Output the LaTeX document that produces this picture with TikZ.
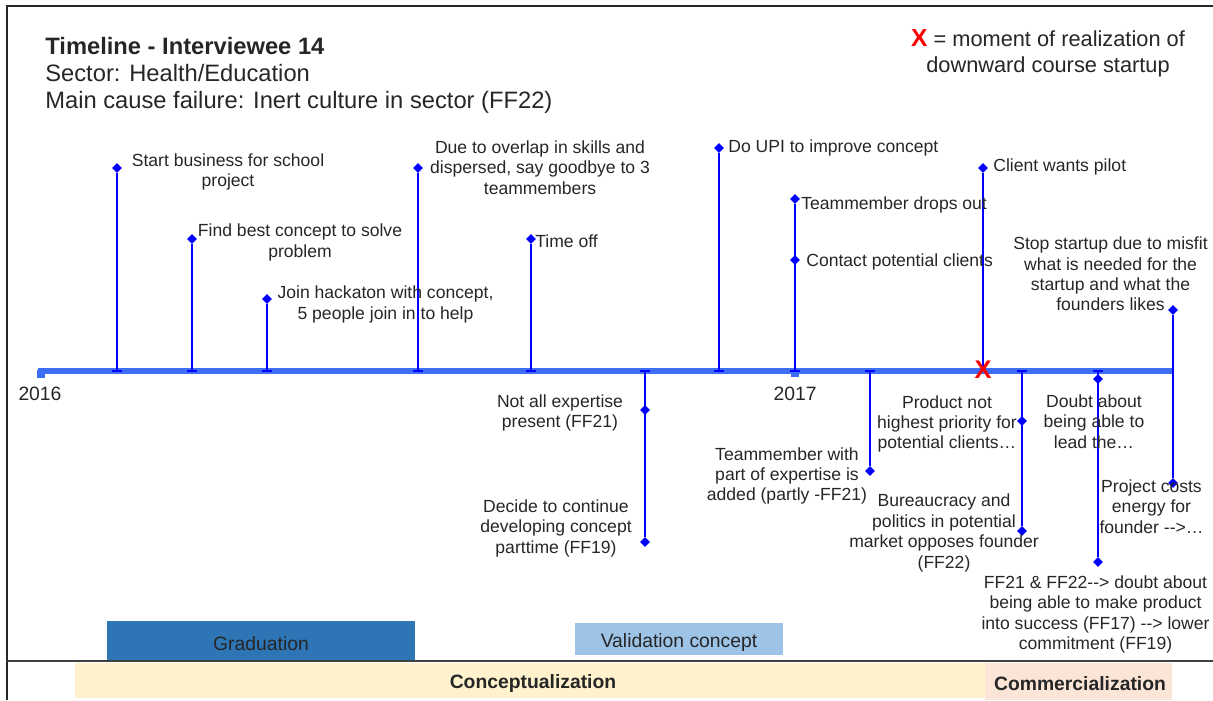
\documentclass[tikz,border=0pt]{standalone}
\usepackage{fontspec}
\setmainfont{Liberation Sans}
\usepackage{xcolor}
\usetikzlibrary{shapes.geometric}
\definecolor{axisblue}{RGB}{61,110,245}
\definecolor{stemblue}{RGB}{0,0,255}
\definecolor{gradblue}{HTML}{2E75B6}
\definecolor{valblue}{HTML}{9DC3E6}
\definecolor{conceptfill}{HTML}{FFF2CC}
\definecolor{commfill}{HTML}{FBE5D6}
\definecolor{txtgrey}{HTML}{262626}

\begin{document}
\begin{tikzpicture}[
  x=0.02cm, y=-0.02cm,
  every node/.style={font=\fontsize{10}{11.6}\selectfont, text=txtgrey, inner sep=0pt},
  evt/.style={align=center, yshift=-1.1pt},
  evtl/.style={anchor=west, yshift=-1.1pt},
  dot/.style={diamond, fill=stemblue, minimum size=2mm, inner sep=0pt},
  stem/.style={draw=stemblue, line width=0.9pt},
  phase/.style={font=\fontsize{11}{13}\selectfont},
  year/.style={font=\fontsize{11}{13}\selectfont}
]
\useasboundingbox (0,0) rectangle (1213,700);

% Frame
\draw[line width=1.1pt, black!85] (7,700) -- (7,6) -- (1213,6);

% Header
\node[anchor=west, align=left, font=\fontsize{13.5}{15.4}\selectfont, yshift=-1.7pt] (head) at (45,72)
  {\textbf{Timeline - Interviewee 14}\\Sector: Health/Education\\Main cause failure: Inert culture in sector (FF22)};

% Legend
\node[evt, font=\fontsize{12.4}{14.7}\selectfont] (legend) at (1048,51)
  {{\color{red}\fontsize{14}{14}\bfseries\selectfont X} = moment of realization of\\downward course startup};

% Axis
\draw[axisblue, line width=3.4pt] (38,371) -- (1173,371);
\fill[axisblue] (37,370) rectangle (45,378);
\fill[axisblue] (791,372) rectangle (799,377);
\node[year] (y2016) at (40,394) {2016};
\node[year] (y2017) at (795,394) {2017};

% Points on the axis
\coordinate (a1) at (117,371);
\coordinate (a2) at (192,371);
\coordinate (a3) at (267,371);
\coordinate (a4) at (418,371);
\coordinate (a5) at (531,371);
\coordinate (a6) at (719,371);
\coordinate (a7) at (795,371);
\coordinate (a8) at (983,371);
\coordinate (a10) at (645,371);
\coordinate (a11) at (870,371);
\coordinate (a12) at (1022,371);
\coordinate (a13) at (1098,371);

% Markers
\node[dot] (d1) at (117,168) {};
\node[dot] (d2) at (192,239) {};
\node[dot] (d3) at (267,299) {};
\node[dot] (d4) at (418,168) {};
\node[dot] (d5) at (531,239) {};
\node[dot] (d6) at (719,148) {};
\node[dot] (d7a) at (795,199) {};
\node[dot] (d7b) at (795,260) {};
\node[dot] (d8) at (983,168) {};
\node[dot] (d9) at (1173,310) {};
\node[dot] (d10a) at (645,410) {};
\node[dot] (d10b) at (645,542) {};
\node[dot] (d11) at (870,471) {};
\node[dot] (d12a) at (1022,421) {};
\node[dot] (d12b) at (1022,531) {};
\node[dot] (d13a) at (1098,379) {};
\node[dot] (d13b) at (1098,562) {};
\node[dot] (d14) at (1173,483) {};

% Stems
\draw[stem] (a1) -- (d1);
\draw[stem] (a2) -- (d2);
\draw[stem] (a3) -- (d3);
\draw[stem] (a4) -- (d4);
\draw[stem] (a5) -- (d5);
\draw[stem] (a6) -- (d6);
\draw[stem] (a7) -- (d7a);
\draw[stem] (a8) -- (d8);
\draw[stem] (d9) -- (d14);
\draw[stem] (a10) -- (d10b);
\draw[stem] (a11) -- (d11);
\draw[stem] (a12) -- (d12b);
\draw[stem] (a13) -- (d13b);
\foreach \t in {a1,a2,a3,a4,a5,a6,a7,a10,a11,a12,a13}
  \draw[stem] (\t) ++(-5,0) -- ++(10,0);

% Moment of realization
\node[text=red, font=\fontsize{14.5}{14.5}\bfseries\selectfont] (xmark) at (983,370) {X};

% Events above the axis
\node[evt] (e1) at (228,170) {Start business for school\\project};
\node[evt] (e2) at (300,240.5) {Find best concept to solve\\problem};
\node[evt] (e3) at (385.5,302.5) {Join hackaton with concept,\\5 people join in to help};
\node[evt] (e4) at (540,165.5) {Due to overlap in skills and\\dispersed, say goodbye to 3\\teammembers};
\node[evtl] (e5) at (535,239) {Time off};
\node[evtl] (e6) at (728,146) {Do UPI to improve concept};
\node[evtl] (e7a) at (801,203) {Teammember drops out};
\node[evtl] (e7b) at (806,260) {Contact potential clients};
\node[evtl] (e8) at (993,165) {Client wants pilot};
\node[evt] (e9) at (1110.5,272) {Stop startup due to misfit\\what is needed for the\\startup and what the\\founders likes};

% Events below the axis
\node[evt] (e10a) at (560,411) {Not all expertise\\present (FF21)};
\node[evt] (e10b) at (556,526.5) {Decide to continue\\developing concept\\parttime (FF19)};
\node[evt] (e11) at (787,474) {Teammember with\\part of expertise is\\added (partly -FF21)};
\node[evt] (e12a) at (947,422) {Product not\\highest priority for\\potential clients…};
\node[evt] (e12b) at (944,531) {Bureaucracy and\\politics in potential\\market opposes founder\\(FF22)};
\node[evt] (e13a) at (1094,419.5) {Doubt about\\being able to\\lead the…};
\node[evt] (e13b) at (1095.5,612.5) {FF21 \& FF22-{}-> doubt about\\being able to make product\\into success (FF17) -{}-> lower\\commitment (FF19)};
\node[evt] (e14) at (1151.5,504.5) {Project costs\\energy for\\founder -{}->…};

% Phases
\fill[gradblue] (107,621) rectangle (415,661);
\node[phase] (grad) at (261,644) {Graduation};
\fill[valblue] (575,623) rectangle (783,655);
\node[phase] (valid) at (679,642) {Validation concept};
\fill[conceptfill] (75,663) rectangle (985,698);
\node[phase, font=\fontsize{11}{13}\bfseries\selectfont] (concept) at (533,683) {Conceptualization};
\fill[commfill] (985,663) rectangle (1172,700);
\node[phase, font=\fontsize{11}{13}\bfseries\selectfont] (comm) at (1080,684) {Commercialization};
\draw[line width=0.8pt, black!75] (7,661) -- (1213,661);
\end{tikzpicture}
\end{document}
